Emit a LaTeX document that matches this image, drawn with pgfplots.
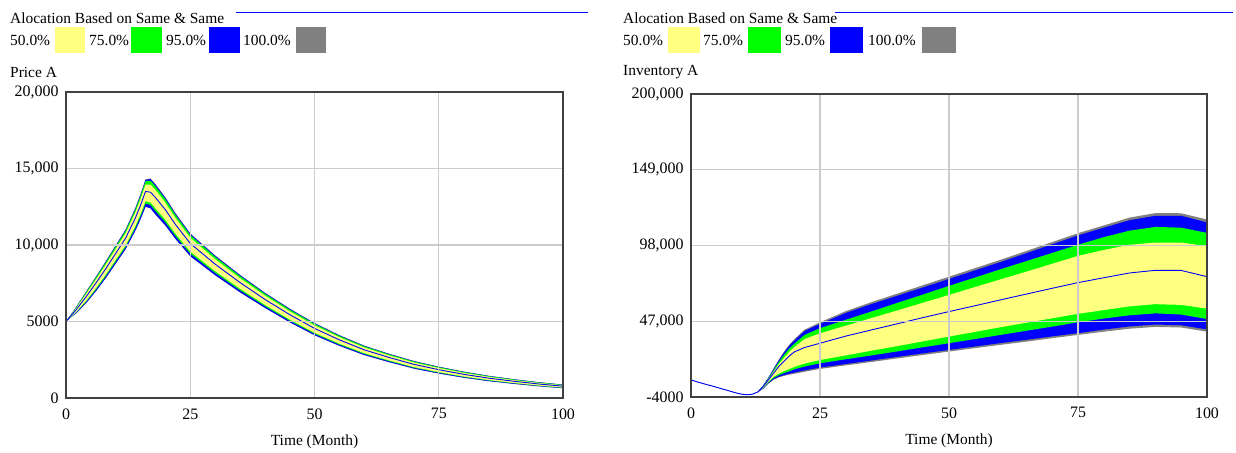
\documentclass[border=0pt]{standalone}
\usepackage{fontspec}
\setmainfont{Liberation Serif}
\usepackage{pgfplots}
\pgfplotsset{compat=1.18}
\usepgfplotslibrary{fillbetween}
\usepackage{pgfplotstable}

\definecolor{vyel}{RGB}{255,255,128}
\definecolor{vgrn}{RGB}{0,255,0}
\definecolor{vblu}{RGB}{0,0,255}
\definecolor{vgry}{RGB}{128,128,128}
\definecolor{vgrid}{RGB}{204,204,204}

% Price A: time, band edges (100/95/75/50 % lower, median, 50/75/95/100 % upper)
\pgfplotstableread{
t   L100  L95   L75   L50   M     U50   U75   U95   U100
0   5000  5000  5000  5000  5000  5000  5000  5000  5000
2   5526  5530  5574  5608  5750  5850  5898  5918  5926
4   6180  6187  6270  6334  6600  6788  6878  6915  6930
6   6968  6977  7082  7163  7500  7738  7852  7899  7918
8   7834  7845  7966  8059  8450  8725  8857  8912  8934
10  8778  8790  8922  9024  9450  9750  9894  9954  9978
12  9722  9735  9878  9988  10450 10775 10931 10996 11022
14  10960 10975 11140 11267 11800 12175 12355 12430 12460
15  11676 11692 11874 12014 12600 13013 13211 13293 13326
16  12492 12510 12708 12861 13500 13950 14166 14256 14292
17  12386 12405 12614 12775 13450 13950 14200 14310 14350
18  11980 12000 12220 12390 13100 13600 13840 13940 13980
20  11264 11282 11486 11643 12300 12763 12985 13077 13114
22  10398 10415 10602 10746 11350 11775 11979 12064 12098
25  9260  9275  9440  9567  10100 10475 10655 10730 10760
30  8022  8035  8178  8288  8750  9075  9231  9296  9322
35  6906  6917  7044  7142  7550  7838  7976  8033  8056
40  5890  5900  6010  6095  6450  6700  6820  6870  6890
45  4946  4955  5054  5130  5450  5675  5783  5828  5846
50  4102  4110  4198  4266  4550  4750  4846  4886  4902
55  3408  3415  3492  3551  3800  3975  4059  4094  4108
60  2803  2809  2877  2930  3150  3305  3379  3410  3423
65  2342  2347  2408  2455  2650  2788  2854  2881  2892
70  1920  1925  1980  2022  2200  2325  2385  2410  2420
75  1598  1602  1652  1690  1850  1963  2017  2039  2048
80  1326  1330  1374  1408  1550  1650  1698  1718  1726
85  1104  1107  1146  1176  1300  1388  1430  1447  1454
90  926   929   964   990   1100  1178  1215  1230  1236
95  769   771   801   824   920   988   1020  1033  1039
100 636   638   664   685   770   830   859   871   876
}\priceA

% Inventory A
\pgfplotstableread{
t   L100   L95    L75    L50    M      U50    U75    U95    U100
0   7500   7500   7500   7500   7500   7500   7500   7500   7500
1   6400   6400   6400   6400   6400   6400   6400   6400   6400
2   5400   5400   5400   5400   5400   5400   5400   5400   5400
3   4400   4400   4400   4400   4400   4400   4400   4400   4400
4   3500   3500   3500   3500   3500   3500   3500   3500   3500
5   2500   2500   2500   2500   2500   2500   2500   2500   2500
6   1500   1500   1500   1500   1500   1500   1500   1500   1500
7   500    500    500    500    500    500    500    500    500
8   -500   -500   -500   -500   -500   -500   -500   -500   -500
9   -1500  -1500  -1500  -1500  -1500  -1500  -1500  -1500  -1500
10  -2200  -2200  -2200  -2200  -2200  -2200  -2200  -2200  -2200
11  -2500  -2500  -2500  -2500  -2500  -2500  -2500  -2500  -2500
12  -2000  -2000  -2000  -2000  -2000  -2000  -2000  -2000  -2000
13  -500   -500   -500   -500   -500   -500   -500   -500   -500
14  1500   1700   2000   2300   3000   3300   3600   3900   4000
15  5000   5300   5800   6300   7500   8000   8500   9000   9300
16  7600   8000   8800   9600   12000  13000  14000  14800  15200
17  9200   9600   10600  11700  16500  18000  19500  20600  21000
18  10200  10700  12000  13300  20000  22200  24300  25800  26400
19  11000  11600  13200  14800  23500  26300  28500  30400  31000
20  11600  12400  14600  16200  26300  29500  31800  34000  34800
22  13000  13900  16500  18500  29300  35000  37800  40500  41300
25  14900  15800  18700  20900  32200  38900  42300  45200  46300
30  17300  18200  21400  24000  37000  44000  48000  52600  53800
35  19600  20600  24000  27200  41200  49200  53600  58600  59900
40  22000  23000  26700  30300  45300  54300  59400  64200  65600
45  24300  25400  29500  33500  49500  59500  65000  69800  71300
50  26600  27700  32200  36700  53500  64700  70800  75500  77000
55  28900  30000  35000  39800  57400  70000  76400  81200  82700
60  31100  32300  37800  43000  61400  75200  82000  86900  88400
65  33300  34500  40600  46000  65300  80400  87500  92800  94300
70  35600  36800  43400  49000  69200  85700  93000  98800  100300
75  37800  39000  46300  52000  73000  91000  98500  104800 106300
80  40000  41400  48800  54500  76300  95000  103600 110000 111500
85  42000  43500  51000  57000  79500  98500  108000 115000 116800
90  43200  44800  52300  58500  81300  100000 110500 118000 119800
95  42800  44300  51500  58000  81200  100000 110000 118000 119700
100 40000  41500  48500  55500  77000  97500  106500 113500 115500
}\invA

\pgfplotsset{
  vensim/.style={
    scale only axis, anchor=south west,
    xmin=0, xmax=100,
    xtick={0,25,50,75,100}, xticklabels={0,25,50,75,100},
    scaled y ticks=false, scaled x ticks=false,
    grid=major, major grid style={draw=vgrid, line width=1.2bp},
    axis on top,
    major tick length=0pt, tick style={draw=none},
    axis line style={draw=black!75, line width=1.2bp},
    ticklabel style={font=\fontsize{16}{18}\selectfont},
    xticklabel style={yshift=-7bp},
    yticklabel style={xshift=-4bp},
    xlabel={Time (Month)},
    label style={font=\fontsize{15.5}{18}\selectfont},
    xlabel style={at={(axis description cs:0.5,0)}, anchor=center, yshift=-44bp},
  },
}

\begin{document}
\begin{tikzpicture}[font=\fontsize{15.5}{18}\selectfont]
\path (0bp,0bp) rectangle (1236bp,450bp);

% ---------- left header ----------
\node[anchor=west, inner sep=0pt] at (10bp,432bp) {Alocation Based on Same \& Same};
\draw[vblu, line width=1bp] (236bp,437bp) -- (588bp,437bp);
\node[anchor=west, inner sep=0pt] at (10bp,410bp) {50.0\%};
\fill[vyel] (55bp,397bp) rectangle (85bp,423bp);
\node[anchor=west, inner sep=0pt] at (89bp,410bp) {75.0\%};
\fill[vgrn] (131bp,397bp) rectangle (162bp,423bp);
\node[anchor=west, inner sep=0pt] at (166bp,410bp) {95.0\%};
\fill[vblu] (209bp,397bp) rectangle (240bp,423bp);
\node[anchor=west, inner sep=0pt] at (243bp,410bp) {100.0\%};
\fill[vgry] (296bp,397bp) rectangle (326bp,423bp);
\node[anchor=west, inner sep=0pt] at (10bp,378bp) {Price A};

% ---------- right header ----------
\node[anchor=west, inner sep=0pt] at (623bp,432bp) {Alocation Based on Same \& Same};
\draw[vblu, line width=1bp] (835bp,437bp) -- (1233bp,437bp);
\node[anchor=west, inner sep=0pt] at (623bp,410bp) {50.0\%};
\fill[vyel] (668bp,397bp) rectangle (700bp,423bp);
\node[anchor=west, inner sep=0pt] at (703bp,410bp) {75.0\%};
\fill[vgrn] (748bp,397bp) rectangle (781bp,423bp);
\node[anchor=west, inner sep=0pt] at (785bp,410bp) {95.0\%};
\fill[vblu] (830bp,397bp) rectangle (863bp,423bp);
\node[anchor=west, inner sep=0pt] at (868bp,410bp) {100.0\%};
\fill[vgry] (922bp,397bp) rectangle (956bp,423bp);
\node[anchor=west, inner sep=0pt] at (623bp,378bp) {Inventory A};

% ---------- left axis ----------
\begin{axis}[vensim,
  at={(66bp,52bp)}, width=497bp, height=306bp,
  ymin=0, ymax=20000,
  ytick={0,5000,10000,15000,20000},
  yticklabels={0,5000,{10,000},{15,000},{20,000}},
]
\addplot[name path=u100, draw=none, forget plot] table[x=t,y=U100]{\priceA};
\addplot[name path=l100, draw=none, forget plot] table[x=t,y=L100]{\priceA};
\addplot[name path=u95, draw=none, forget plot] table[x=t,y=U95]{\priceA};
\addplot[name path=l95, draw=none, forget plot] table[x=t,y=L95]{\priceA};
\addplot[name path=u75, draw=none, forget plot] table[x=t,y=U75]{\priceA};
\addplot[name path=l75, draw=none, forget plot] table[x=t,y=L75]{\priceA};
\addplot[name path=u50, draw=none, forget plot] table[x=t,y=U50]{\priceA};
\addplot[name path=l50, draw=none, forget plot] table[x=t,y=L50]{\priceA};
\addplot[fill=vgry, draw=none] fill between[of=u100 and l100];
\addplot[fill=vblu, draw=none] fill between[of=u95 and l95];
\addplot[fill=vgrn, draw=none] fill between[of=u75 and l75];
\addplot[fill=vyel, draw=none] fill between[of=u50 and l50];
\addplot[vblu, line width=0.9bp] table[x=t,y=M]{\priceA};
\end{axis}

% ---------- right axis ----------
\begin{axis}[vensim,
  at={(691bp,53bp)}, width=516bp, height=303bp,
  ymin=-4000, ymax=200000,
  ytick={-4000,47000,98000,149000,200000},
  yticklabels={-4000,{47,000},{98,000},{149,000},{200,000}},
]
\addplot[name path=u100, draw=none, forget plot] table[x=t,y=U100]{\invA};
\addplot[name path=l100, draw=none, forget plot] table[x=t,y=L100]{\invA};
\addplot[name path=u95, draw=none, forget plot] table[x=t,y=U95]{\invA};
\addplot[name path=l95, draw=none, forget plot] table[x=t,y=L95]{\invA};
\addplot[name path=u75, draw=none, forget plot] table[x=t,y=U75]{\invA};
\addplot[name path=l75, draw=none, forget plot] table[x=t,y=L75]{\invA};
\addplot[name path=u50, draw=none, forget plot] table[x=t,y=U50]{\invA};
\addplot[name path=l50, draw=none, forget plot] table[x=t,y=L50]{\invA};
\addplot[fill=vgry, draw=none] fill between[of=u100 and l100];
\addplot[fill=vblu, draw=none] fill between[of=u95 and l95];
\addplot[fill=vgrn, draw=none] fill between[of=u75 and l75];
\addplot[fill=vyel, draw=none] fill between[of=u50 and l50];
\addplot[vblu, line width=0.9bp] table[x=t,y=M]{\invA};
\end{axis}
\end{tikzpicture}
\end{document}
